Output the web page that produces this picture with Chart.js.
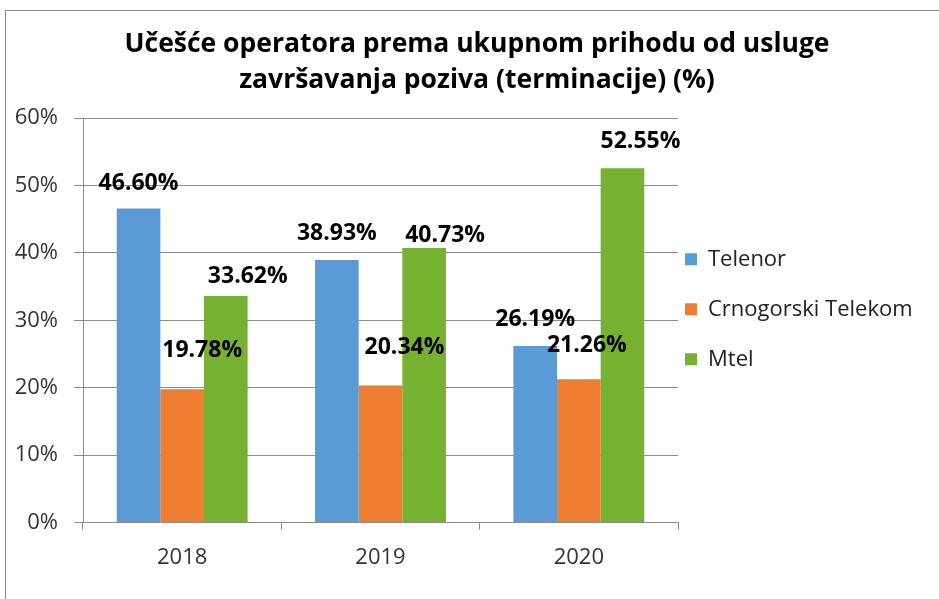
<!DOCTYPE html>
<html>
<head>
<meta charset="utf-8">
<script src="https://cdn.jsdelivr.net/npm/chart.js@4/dist/chart.umd.min.js"></script>
<style>
  html, body { margin: 0; padding: 0; background: #fff; overflow: hidden; }
  #frame {
    position: absolute; left: 5px; top: 10px;
    border-left: 1px solid #8c8c8c; border-top: 1px solid #8c8c8c;
  }
  canvas { display: block; }
</style>
</head>
<body>
<div id="frame"><canvas id="chart" width="933" height="588"></canvas></div>
<script>
const titleLines = ['Učešće operatora prema ukupnom prihodu od usluge', 'završavanja poziva (terminacije) (%)']
const years = ['2018', '2019', '2020']
const seriesNames = ['Telenor', 'Crnogorski Telekom', 'Mtel']
const telenor = [46.60, 38.93, 26.19]
const crnogorskiTelekom = [19.78, 20.34, 21.26]
const mtel = [33.62, 40.73, 52.55]
const colors = ['#5b9bd5', '#ed7d31', '#76b131']

const FONT = '"Open Sans", "DejaVu Sans", sans-serif'
const GRID = '#8c8c8c'

// label nudges [dx, up] relative to each bar top, like the hand-moved labels in the original
const labelNudge = [
    [[0, 25], [0, 27], [0, 27]],
    [[20, 39], [24, 38], [8, 34]],
    [[22, 19], [21, 13], [18, 27]]
]

const valueLabels = {
    id: 'valueLabels',
    afterDatasetsDraw(chart) {
        const ctx = chart.ctx
        ctx.save()
        ctx.font = 'bold 23px ' + FONT
        ctx.fillStyle = '#000'
        ctx.textAlign = 'center'
        ctx.textBaseline = 'middle'
        chart.data.datasets.forEach((ds, d) => {
            chart.getDatasetMeta(d).data.forEach((bar, i) => {
                const [dx, up] = labelNudge[d][i]
                ctx.fillText(ds.data[i].toFixed(2) + '%', bar.x + dx, bar.y - up)
            })
        })
        ctx.restore()
    }
}

// shift the legend and title blocks to where the original had them
const boxNudge = {
    id: 'boxNudge',
    afterLayout(chart, args, opts) {
        const lg = chart.legend
        lg.left += opts.legendDx
        lg.right = chart.width
        lg.top += opts.legendDy
        lg.bottom += opts.legendDy
        const tb = chart.titleBlock
        tb.left += opts.titleDx
        tb.right += opts.titleDx
    }
}

new Chart(document.getElementById('chart'), {
    type: 'bar',
    data: {
        labels: years,
        datasets: [telenor, crnogorskiTelekom, mtel].map((values, i) => ({
            label: seriesNames[i],
            data: values,
            backgroundColor: colors[i],
            borderWidth: 0,
            barPercentage: 1,
            categoryPercentage: 0.66
        }))
    },
    options: {
        responsive: false,
        animation: false,
        layout: { padding: { left: 0, right: 11, top: 0, bottom: 13 } },
        scales: {
            x: {
                grid: { drawOnChartArea: false, color: GRID, tickLength: 7, offset: true },
                border: { color: GRID },
                ticks: { color: '#333', font: { family: FONT, size: 22 }, padding: 15 }
            },
            y: {
                min: 0,
                max: 60,
                afterFit: s => { s.width = 77 },
                grid: { color: GRID, tickLength: 9 },
                border: { color: GRID },
                ticks: {
                    stepSize: 10,
                    color: '#333',
                    font: { family: FONT, size: 22 },
                    padding: 16,
                    callback: v => v + '%'
                }
            }
        },
        plugins: {
            title: {
                display: true,
                text: titleLines,
                color: '#000',
                font: { family: FONT, size: 26.5, weight: 'bold', lineHeight: 1.34 },
                padding: { top: 16, bottom: 20 }
            },
            legend: {
                position: 'right',
                fullSize: false,
                maxWidth: 250,
                labels: {
                    boxWidth: 12,
                    boxHeight: 12,
                    padding: 28,
                    color: '#222',
                    font: { family: FONT, size: 22 }
                }
            },
            boxNudge: { legendDx: -21, legendDy: -11, titleDx: 10 },
            tooltip: { enabled: false }
        }
    },
    plugins: [valueLabels, boxNudge]
})
</script>
</body>
</html>
